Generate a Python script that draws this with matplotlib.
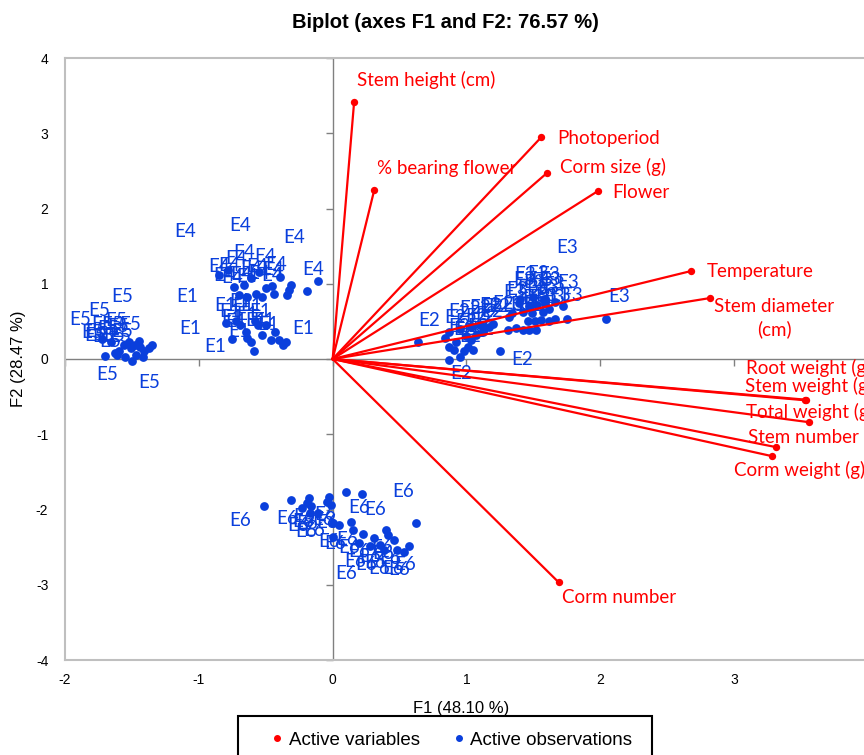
import matplotlib
matplotlib.use("Agg")
import matplotlib.pyplot as plt
from matplotlib import font_manager
from matplotlib.lines import Line2D
from matplotlib.patches import Rectangle
from matplotlib.markers import TICKLEFT, TICKDOWN

plt.rcParams["axes.unicode_minus"] = False

# === fonts ===
nombres = {f.name for f in font_manager.fontManager.ttflist}
narrow = "Liberation Sans Narrow" if "Liberation Sans Narrow" in nombres else "Liberation Sans"
label_font = "Lato"

# === variables (red vectors) ===
var_names = ["Stem height (cm)", "% bearing flower", "Photoperiod", "Corm size (g)",
             "Flower", "Temperature", "Stem diameter\n(cm)", "Root weight (g)",
             "Stem weight (g)", "Total weight (g)", "Stem number", "Corm weight (g)",
             "Corm number"]
var_x = [0.16, 0.31, 1.56, 1.60, 1.98, 2.68, 2.82, 3.53, 3.54, 3.56, 3.31, 3.28, 1.69]
var_y = [3.41, 2.24, 2.95, 2.47, 2.23, 1.17, 0.81, -0.54, -0.55, -0.84, -1.17, -1.29, -2.97]

# === observations ===
e1_x = [-0.75, -0.65, -0.61, -0.59, -0.53, -0.46, -0.43, -0.40, -0.35, -0.37,
        -0.69, -0.56, -0.50, -0.64, -0.80, -0.72, -0.58]
e1_y = [0.26, 0.36, 0.23, 0.10, 0.32, 0.25, 0.36, 0.25, 0.23, 0.19,
        0.45, 0.45, 0.45, 0.28, 0.48, 0.50, 0.50]

e2_x = [0.64, 0.87, 0.84, 0.87, 0.87, 0.92, 0.91, 0.95, 0.98, 1.01, 1.03, 1.05,
        1.00, 1.07, 1.12, 1.12, 1.17, 1.25, 0.95, 1.03, 1.10, 1.20]
e2_y = [0.22, 0.36, 0.28, 0.16, -0.01, 0.23, 0.12, 0.03, 0.10, 0.16, 0.25, 0.12,
        0.30, 0.32, 0.36, 0.43, 0.43, 0.10, 0.40, 0.42, 0.45, 0.47]

e3_x = [2.04, 1.75, 1.66, 1.62, 1.56, 1.51, 1.47, 1.42, 1.37, 1.31, 1.32, 1.52,
        1.46, 1.34, 1.42, 1.49, 1.57, 1.62, 1.59, 1.53, 1.47, 1.39, 1.66, 1.72,
        1.40, 1.50, 1.58]
e3_y = [0.53, 0.53, 0.53, 0.50, 0.52, 0.50, 0.39, 0.39, 0.41, 0.39, 0.56, 0.39,
        0.50, 0.61, 0.63, 0.61, 0.63, 0.67, 0.74, 0.72, 0.70, 0.74, 0.76, 0.70,
        0.80, 0.82, 0.80]

e4_x = [-0.39, -0.31, -0.33, -0.34, -0.19, -0.11, -0.44, -0.45, -0.50, -0.53,
        -0.57, -0.64, -0.70, -0.66, -0.74, -0.61, -0.85, -0.78, -0.55]
e4_y = [1.09, 0.99, 0.92, 0.85, 0.90, 1.04, 0.87, 0.97, 0.94, 0.83,
        0.86, 0.82, 0.85, 0.98, 0.96, 1.07, 1.12, 1.18, 1.15]

e5_x = [-1.70, -1.63, -1.60, -1.55, -1.50, -1.56, -1.51, -1.45, -1.44, -1.41,
        -1.42, -1.37, -1.35, -1.48, -1.52, -1.61, -1.47, -1.66, -1.72]
e5_y = [0.04, 0.08, 0.10, 0.03, -0.03, 0.19, 0.14, 0.24, 0.16, 0.10,
        0.03, 0.14, 0.19, 0.19, 0.23, 0.05, 0.05, 0.22, 0.26]

e6_x = [-0.51, -0.31, -0.18, -0.19, -0.16, -0.11, -0.17, -0.23, -0.03, -0.04,
        -0.01, 0.00, 0.00, 0.10, 0.22, 0.05, 0.14, 0.15, 0.23, 0.31, 0.40, 0.41,
        0.46, 0.62, 0.20, 0.28, 0.35, 0.48, 0.53, 0.57, 0.38]
e6_y = [-1.95, -1.88, -1.85, -1.92, -1.95, -2.04, -2.05, -1.98, -1.83, -1.90,
        -1.94, -2.18, -2.36, -1.77, -1.80, -2.21, -2.16, -2.27, -2.32, -2.38,
        -2.27, -2.34, -2.41, -2.18, -2.45, -2.49, -2.47, -2.54, -2.56, -2.49, -2.54]

grupos = {"E1": (e1_x, e1_y), "E2": (e2_x, e2_y), "E3": (e3_x, e3_y),
          "E4": (e4_x, e4_y), "E5": (e5_x, e5_y), "E6": (e6_x, e6_y)}

# === label placement (pixels) ===
var_offsets = [(3, 22), (3, 22), (16, -1), (13, 6), (15, -1), (15, -1), (64, -20),
               (-59, 32), (-61, 14), (-63, 10), (-28, 10), (-38, -14), (3, -15)]
obs_offset = {"E1": (-15, 20), "E2": (10, 20), "E3": (5, 24),
              "E4": (-15, 20), "E5": (-22, 20), "E6": (-4, -18)}
obs_override = {("E1", 8): (17, 13), ("E1", 0): (-17, -7), ("E1", 14): (-35, -6),
                ("E1", 15): (-49, 25),
                ("E4", 5): (-5, 11), ("E4", 4): (-13, 54), ("E4", 17): (12, 45),
                ("E4", 16): (-34, 43),
                ("E5", 14): (-7, 45), ("E5", 17): (-11, 32), ("E5", 0): (2, -19),
                ("E5", 11): (0, -34),
                ("E2", 17): (22, -8), ("E2", 0): (11, 22), ("E2", 4): (12, -14),
                ("E3", 0): (13, 23), ("E3", 22): (12, 54),
                ("E6", 23): (-13, 32), ("E6", 13): (13, -15), ("E6", 14): (13, -15),
                ("E6", 0): (-24, -15), ("E6", 12): (13, -37)}

rojo = "#ff0000"
azul = "#0a3fdc"

# === figure ===
fig = plt.figure(figsize=(8.64, 7.55), dpi=100)
ax = fig.add_axes([65 / 864, 95 / 755, 803 / 864, 602 / 755])
ax.set_xlim(-2, 4)
ax.set_ylim(-4, 4)

ax.axhline(0, color="#808080", lw=1, zorder=1)
ax.axvline(0, color="#808080", lw=1, zorder=1)
xt = [-2, -1, 0, 1, 2, 3, 4]
yt = [-4, -3, -2, -1, 0, 1, 2, 3, 4]
ax.plot([0] * len(yt), yt, ls="none", marker=TICKLEFT, ms=5, mew=1, color="#808080", clip_on=False)
ax.plot(xt, [0] * len(xt), ls="none", marker=TICKDOWN, ms=5, mew=1, color="#808080", clip_on=False)

for s in ax.spines.values():
    s.set_color("#bfbfbf")
    s.set_linewidth(1.5)
ax.set_xticks(xt)
ax.set_yticks(yt)
ax.tick_params(axis="x", length=0, pad=9, labelsize=10)
ax.tick_params(axis="y", length=0, pad=12, labelsize=10)
for t in ax.get_xticklabels() + ax.get_yticklabels():
    t.set_family(narrow)

# observations
for nombre, (gx, gy) in grupos.items():
    ax.scatter(gx, gy, s=40, color=azul, zorder=3, linewidths=0)
    for i in range(len(gx)):
        off = obs_override.get((nombre, i), obs_offset[nombre])
        ax.annotate(nombre, (gx[i], gy[i]), xytext=off, textcoords="offset pixels",
                    ha="center", va="center", color=azul, fontsize=13.5,
                    family=label_font, zorder=4)

# variables
for i, nombre in enumerate(var_names):
    ax.plot([0, var_x[i]], [0, var_y[i]], color=rojo, lw=1.6, zorder=5)
    ha = "center" if "\n" in nombre else "left"
    ax.annotate(nombre, (var_x[i], var_y[i]), xytext=var_offsets[i],
                textcoords="offset pixels", ha=ha, va="center", color=rojo,
                fontsize=13.5, family=label_font, linespacing=1.4, zorder=6)
ax.scatter(var_x, var_y, s=28, color=rojo, zorder=6, linewidths=0)

# titles and labels
fig.text(445 / 864, 1 - 22 / 755, "Biplot (axes F1 and F2: 76.57 %)", ha="center",
         va="center", fontsize=14.5, fontweight="bold", family="Liberation Sans")
ax.set_xlabel("F1 (48.10 %)", fontsize=12, family=narrow)
ax.xaxis.set_label_coords((461 - 65) / 803, (660 - 709) / 602)
ax.xaxis.label.set_va("center")
ax.set_ylabel("F2 (28.47 %)", fontsize=12, family=narrow)
ax.yaxis.set_label_coords((18 - 65) / 803, 0.5)
ax.yaxis.label.set_va("center")

# legend (frame drawn separately, wider than the entries)
fig.patches.append(Rectangle((238 / 864, -0.02), (652 - 238) / 864, 0.02 + (755 - 716) / 755,
                             transform=fig.transFigure, facecolor="white",
                             edgecolor="black", lw=1.5, zorder=0))
handles = [Line2D([], [], ls="none", marker="o", ms=4, color=rojo),
           Line2D([], [], ls="none", marker="o", ms=4, color=azul)]
fig.legend(handles, ["Active variables", "Active observations"], ncol=2,
           loc="center", bbox_to_anchor=(452 / 864, 1 - 740 / 755),
           frameon=False, prop={"family": narrow, "size": 13.5}, handlelength=0.6,
           handletextpad=0.3, columnspacing=1.8, borderaxespad=0)

fig.savefig("out.png", dpi=100)
